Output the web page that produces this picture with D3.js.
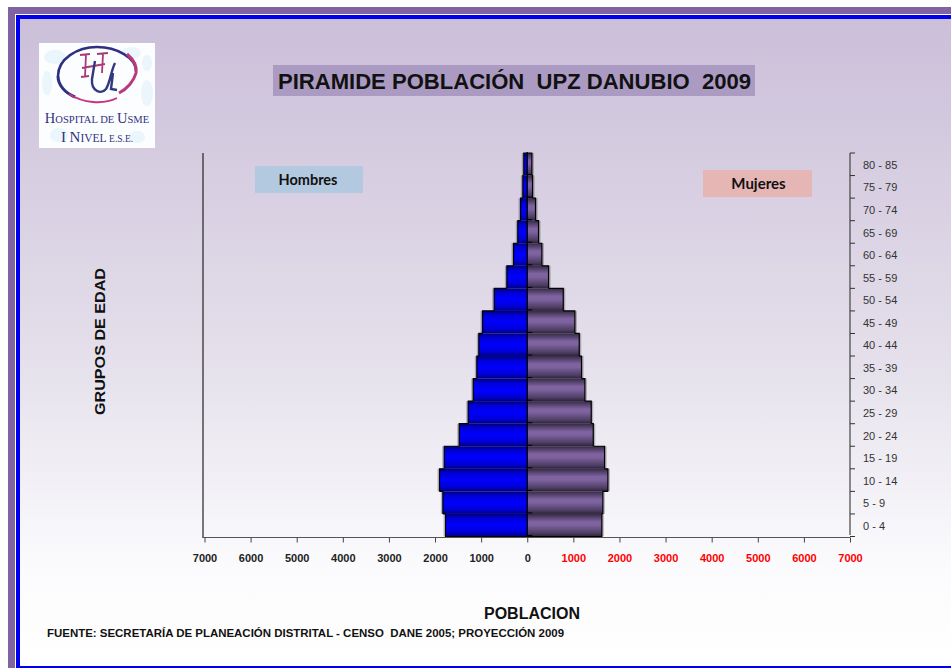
<!DOCTYPE html>
<html>
<head>
  <meta charset="utf-8">
  <title>Piramide poblacion UPZ Danubio 2009</title>
  <style>
    html, body { margin: 0; padding: 0; background: #fff; }
    svg { display: block; }
    text { font-family: "Liberation Sans", Arial, sans-serif; }
  </style>
</head>
<body>
  <div id="chart"></div>

  <script src="https://d3js.org/d3.v7.min.js"></script>
  <script>
    // Datos
    const grupos = ["80 - 85", "75 - 79", "70 - 74", "65 - 69", "60 - 64", "55 - 59", "50 - 54", "45 - 49", "40 - 44",
      "35 - 39", "30 - 34", "25 - 29", "20 - 24", "15 - 19", "10 - 14", "5 - 9", "0 - 4"];
    const hombres = [74, 95, 145, 205, 297, 442, 716, 970, 1050, 1093, 1171, 1280, 1475, 1800, 1902, 1830, 1772];
    const mujeres = [100, 115, 180, 245, 317, 462, 781, 1033, 1128, 1178, 1250, 1388, 1432, 1677, 1749, 1640, 1618];
    const ticksX = [-7000, -6000, -5000, -4000, -3000, -2000, -1000, 0, 1000, 2000, 3000, 4000, 5000, 6000, 7000];

    const width = 951;
    const height = 668;

    const svg = d3.select("#chart").append("svg")
      .attr("width", width)
      .attr("height", height);

    const defs = svg.append("defs");

    function gradiente(id, stops) {
      const g = defs.append("linearGradient").attr("id", id)
        .attr("x1", 0).attr("y1", 0).attr("x2", 0).attr("y2", 1);
      stops.forEach(s => g.append("stop").attr("offset", s[0]).attr("stop-color", s[1]));
    }
    gradiente("fondo", [[0, "#cbbfd9"], [0.5, "#e3deea"], [0.85, "#fbfbfd"], [1, "#ffffff"]]);
    gradiente("azul", [[0, "#00007a"], [0.2, "#0000d8"], [0.5, "#0000ff"], [0.8, "#0000d8"], [1, "#000080"]]);
    gradiente("morado", [[0, "#352a45"], [0.35, "#8064a2"], [0.5, "#7d629e"], [0.85, "#4d3d63"], [1, "#2c2238"]]);

    // Marcos y fondo
    svg.append("rect").attr("x", 8).attr("y", 7).attr("width", width - 8).attr("height", height - 7).attr("fill", "#8064a2");
    svg.append("rect").attr("x", 15).attr("y", 14).attr("width", width - 15).attr("height", height - 14).attr("fill", "#fff");
    svg.append("rect").attr("x", 16).attr("y", 15).attr("width", width - 16).attr("height", height - 15).attr("fill", "#0000f0");
    svg.append("rect").attr("x", 20).attr("y", 19).attr("width", width - 20).attr("height", height - 21).attr("fill", "url(#fondo)");

    // Logo
    const logo = svg.append("g").attr("transform", "translate(39,43)");
    logo.append("rect").attr("width", 116).attr("height", 105).attr("fill", "#fbfdff");
    [[16, 14, 22, 14], [92, 10, 20, 12], [8, 40, 10, 24], [108, 50, 12, 26], [20, 92, 18, 14], [98, 94, 16, 12], [108, 20, 10, 16]].forEach(b => {
      logo.append("ellipse").attr("cx", b[0]).attr("cy", b[1]).attr("rx", b[2] / 2).attr("ry", b[3] / 2).attr("fill", "#eaf5fc");
    });
    logo.append("path")
      .attr("d", "M19,33 C19,16 38,4 58,4 C78,4 97,15 97,28")
      .attr("fill", "none").attr("stroke", "#2e2f80").attr("stroke-width", 2.5);
    logo.append("path")
      .attr("d", "M88,11 C95,17 98,24 97,30 C95,38 88,46 80,50")
      .attr("fill", "none").attr("stroke", "#b83a7c").attr("stroke-width", 3);
    logo.append("path")
      .attr("d", "M19,33 C19,42 26,50 36,54")
      .attr("fill", "none").attr("stroke", "#2e2f80").attr("stroke-width", 3);
    logo.append("path")
      .attr("d", "M30,51 C44,60 64,62 78,55")
      .attr("fill", "none").attr("stroke", "#c8327c").attr("stroke-width", 1.8);
    logo.append("path")
      .attr("d", "M47,11 L46,34 M42,34 L50,33 M64,11 L63,30 M41,12 L51,11 M58,11 L69,10 M43,25 L66,21")
      .attr("fill", "none").attr("stroke", "#a83a78").attr("stroke-width", 1.8);
    logo.append("path")
      .attr("d", "M56,18 L53,36 C52,48 62,52 67,46 C71,40 72,28 76,20 M74,30 L72,46 L78,47")
      .attr("fill", "none").attr("stroke", "#33397f").attr("stroke-width", 2.4);

    function textoLogo(yy, partes) {
      const t = logo.append("text").attr("x", 58).attr("y", yy).attr("text-anchor", "middle")
        .style("font-family", "'Liberation Serif', serif")
        .attr("fill", "#33337e");
      partes.forEach(p => t.append("tspan").style("font-size", p[1] + "px").text(p[0]));
    }
    textoLogo(80, [["H", 14.5], ["OSPITAL DE ", 10.6], ["U", 14.5], ["SME", 10.6]]);
    textoLogo(99, [["I N", 15], ["IVEL ", 11.5], ["E.S.E.", 9.5]]);

    // Titulo
    svg.append("rect").attr("x", 273).attr("y", 65).attr("width", 482).attr("height", 31).attr("fill", "#ab9bc3");
    svg.append("text").attr("x", 514.5).attr("y", 89).attr("text-anchor", "middle")
      .style("font-size", "22px").style("font-weight", "bold").attr("fill", "#111")
      .attr("textLength", 473).attr("lengthAdjust", "spacingAndGlyphs")
      .text("PIRAMIDE POBLACIÓN\u00a0 UPZ DANUBIO\u00a0 2009");

    // Escalas
    const x = d3.scaleLinear().domain([-7000, 7000]).range([204.5, 850]);
    const y = d3.scaleBand().domain(grupos).range([153, 536.5]).padding(0);

    // Barras
    const filas = grupos.map((g, i) => ({ g, h: hombres[i], m: mujeres[i] }));

    const sombra = svg.append("g").attr("fill", "#000").attr("opacity", 0.25);
    sombra.selectAll("rect.h").data(filas).enter().append("rect")
      .attr("x", d => x(-d.h) - 2)
      .attr("y", d => y(d.g))
      .attr("width", d => x(0) - x(-d.h) + 2)
      .attr("height", y.bandwidth());
    sombra.selectAll("rect.m").data(filas).enter().append("rect")
      .attr("x", x(0))
      .attr("y", d => y(d.g))
      .attr("width", d => x(d.m) - x(0) + 2)
      .attr("height", y.bandwidth());

    svg.append("g").selectAll("rect").data(filas).enter().append("rect")
      .attr("x", d => x(-d.h))
      .attr("y", d => y(d.g))
      .attr("width", d => x(0) - x(-d.h))
      .attr("height", y.bandwidth())
      .attr("fill", "url(#azul)");

    svg.append("g").selectAll("rect").data(filas).enter().append("rect")
      .attr("x", x(0))
      .attr("y", d => y(d.g))
      .attr("width", d => x(d.m) - x(0))
      .attr("height", y.bandwidth())
      .attr("fill", "url(#morado)");

    // Contorno escalonado de cada lado
    function contorno(valor) {
      let prev = 0;
      let d = "";
      filas.forEach(f => {
        const v = valor(f);
        d += "M" + x(prev) + "," + y(f.g) + "H" + x(v) + "V" + (y(f.g) + y.bandwidth());
        prev = v;
      });
      return d + "H" + x(0);
    }
    svg.append("path").attr("d", contorno(f => -f.h)).attr("fill", "none").attr("stroke", "#000").attr("stroke-width", 1.2);
    svg.append("path").attr("d", contorno(f => f.m)).attr("fill", "none").attr("stroke", "#000").attr("stroke-width", 1.2);

    // Eje central con sus marcas
    const bordes = grupos.map(g => y(g)).concat([y.range()[1]]);
    svg.append("line").attr("x1", x(0)).attr("x2", x(0)).attr("y1", 152).attr("y2", 537)
      .attr("stroke", "#000").attr("stroke-width", 1.3);
    svg.append("g").selectAll("line").data(bordes.slice(1)).enter().append("line")
      .attr("x1", x(0)).attr("x2", x(0) + 5)
      .attr("y1", d => d - 1).attr("y2", d => d - 1)
      .attr("stroke", "#000").attr("stroke-width", 1);

    // Eje vertical izquierdo
    svg.append("line").attr("x1", 203).attr("x2", 203).attr("y1", 153).attr("y2", 538)
      .attr("stroke", "#222").attr("stroke-width", 1.2);

    // Eje X
    const ejeX = svg.append("g").attr("transform", "translate(0,537.5)")
      .call(d3.axisBottom(x).tickValues(ticksX).tickSize(5).tickSizeOuter(0).tickFormat(d => Math.abs(d)));
    ejeX.select(".domain").attr("stroke", "#555").attr("stroke-width", 1.2).attr("d", "M203,0H850");
    ejeX.selectAll(".tick line").attr("stroke", "#444");
    ejeX.selectAll(".tick text")
      .attr("y", 16.5)
      .style("font-size", "11px").style("font-weight", "bold")
      .style("font-family", "'Liberation Sans', Arial, sans-serif")
      .attr("fill", d => d > 0 ? "#ff0000" : "#222");

    // Eje Y derecho
    const ejeY = svg.append("g").attr("transform", "translate(850,0)")
      .call(d3.axisRight(y).tickSize(0).tickPadding(13));
    ejeY.select(".domain").attr("stroke", "#444").attr("stroke-width", 1.2).attr("d", "M0,153V535");
    ejeY.selectAll(".tick text")
      .attr("dy", "0.42em")
      .style("font-size", "11px")
      .style("font-family", "'Liberation Sans', Arial, sans-serif")
      .attr("fill", "#333");
    ejeY.selectAll(".marca").data(bordes).enter().append("line").attr("class", "marca")
      .attr("x1", 0).attr("x2", 5)
      .attr("y1", d => d).attr("y2", d => d)
      .attr("stroke", "#333");

    // Leyendas
    svg.append("rect").attr("x", 255).attr("y", 166).attr("width", 108).attr("height", 27).attr("fill", "#b3c9e0");
    svg.append("text").attr("x", 308).attr("y", 185).attr("text-anchor", "middle")
      .style("font-family", "Lato, 'Open Sans', sans-serif").style("font-size", "14.5px").style("font-weight", "bold")
      .attr("fill", "#111").text("Hombres");
    svg.append("rect").attr("x", 703).attr("y", 170).attr("width", 109).attr("height", 27).attr("fill", "#e6b6b5");
    svg.append("text").attr("x", 758.5).attr("y", 189).attr("text-anchor", "middle")
      .style("font-family", "Lato, 'Open Sans', sans-serif").style("font-size", "15px").style("font-weight", "bold")
      .attr("fill", "#111").text("Mujeres");

    // Titulos de ejes y fuente
    svg.append("text").attr("transform", "translate(105,341.5) rotate(-90)").attr("text-anchor", "middle")
      .style("font-size", "15px").style("font-weight", "bold").attr("fill", "#111")
      .attr("textLength", 147).attr("lengthAdjust", "spacingAndGlyphs")
      .text("GRUPOS DE EDAD");
    svg.append("text").attr("x", 532).attr("y", 619).attr("text-anchor", "middle")
      .style("font-size", "16px").style("font-weight", "bold").attr("fill", "#111")
      .text("POBLACION");
    svg.append("text").attr("x", 47).attr("y", 637)
      .style("font-size", "11px").style("font-weight", "bold").attr("fill", "#111")
      .attr("textLength", 517).attr("lengthAdjust", "spacingAndGlyphs")
      .text("FUENTE: SECRETARÍA DE PLANEACIÓN DISTRITAL - CENSO\u00a0 DANE 2005; PROYECCIÓN 2009");
  </script>
</body>
</html>
